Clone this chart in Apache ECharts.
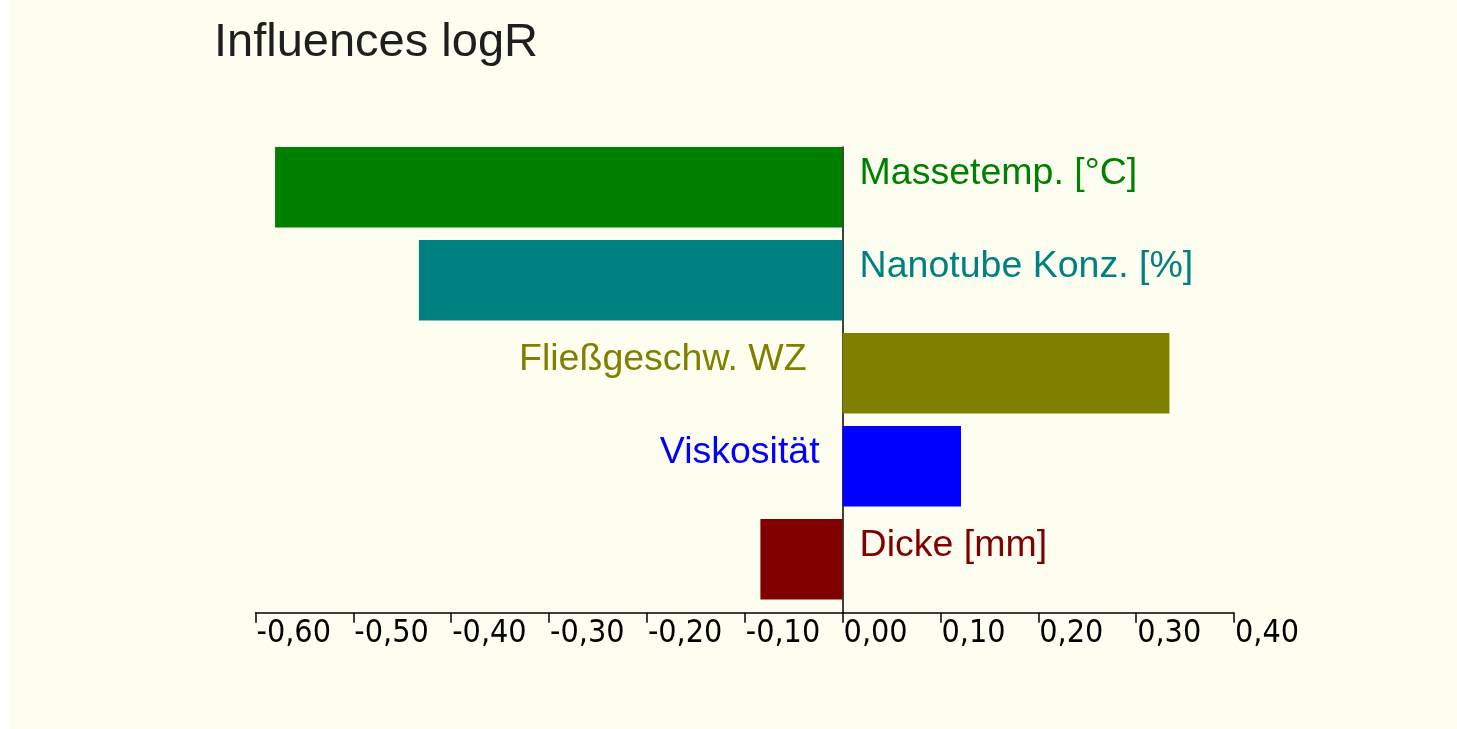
<!DOCTYPE html>
<html>
<head>
<meta charset="utf-8">
<title>Influences logR</title>
<script src="https://cdn.jsdelivr.net/npm/echarts@6/dist/echarts.min.js"></script>
<style>
  html, body { margin: 0; padding: 0; background: #ffffff; }
  #chart { position: absolute; left: 9px; top: 0; width: 1448px; height: 729px; background: #fefef0; }
</style>
</head>
<body>
<div id="chart"></div>
<script>
// Effect of each factor on logR
const categories = ['Massetemp. [°C]', 'Nanotube Konz. [%]', 'Fließgeschw. WZ', 'Viskosität', 'Dicke [mm]'];
const effects = [-0.580, -0.433, 0.334, 0.121, -0.084];
const barColors = ['#008000', '#008080', '#808000', '#0000ff', '#800000'];
const axisMin = -0.6;
const axisMax = 0.4;
const axisStep = 0.1;

// left-side labels sit at different gaps from the zero line
const leftLabelGap = { 'Fließgeschw. WZ': 36, 'Viskosität': 23 };

const chart = echarts.init(document.getElementById('chart'));

const plotLeft = 246.5;
const plotWidth = 978.5;

chart.setOption({
  backgroundColor: '#fefef0',
  animation: false,
  title: {
    text: 'Influences logR',
    left: 200,
    top: 15,
    textStyle: { fontFamily: 'Liberation Sans, Arial, sans-serif', fontSize: 47, fontWeight: 'normal', color: '#1e1e1e' }
  },
  grid: [
    { left: plotLeft, width: plotWidth, top: 140.7, height: 465 },
    { left: plotLeft, width: plotWidth, top: 147, height: 465.7 }
  ],
  xAxis: [
    { gridIndex: 0, type: 'value', min: axisMin, max: axisMax, interval: axisStep, show: false },
    {
      gridIndex: 1, type: 'value', min: axisMin, max: axisMax, interval: axisStep,
      axisLine: { show: true, lineStyle: { color: '#000', width: 1.5 } },
      axisTick: { show: true, length: 10, lineStyle: { color: '#000', width: 1.5 } },
      splitLine: { show: false },
      axisLabel: {
        align: 'left',
        margin: 5,
        padding: [0, 0, 0, 1],
        color: '#000',
        fontFamily: 'Liberation Sans Narrow, DejaVu Sans Condensed, Arial, sans-serif',
        fontSize: 32,
        showMaxLabel: true,
        formatter: v => v.toFixed(2).replace('.', ',')
      }
    }
  ],
  yAxis: [
    { gridIndex: 0, type: 'category', data: categories, inverse: true, show: false },
    {
      gridIndex: 1, type: 'value', min: 0, max: 1,
      axisLine: { show: true, onZero: true, lineStyle: { color: '#000', width: 1.5 } },
      axisTick: { show: false }, axisLabel: { show: false }, splitLine: { show: false }
    }
  ],
  series: [
    {
      type: 'bar',
      xAxisIndex: 0, yAxisIndex: 0,
      barCategoryGap: '13.4%',
      data: effects.map((v, i) => {
        const neg = v < 0;
        return {
          value: v,
          itemStyle: { color: barColors[i] },
          label: {
            show: true,
            position: neg ? 'right' : 'left',
            distance: neg ? 17 : (leftLabelGap[categories[i]] || 20),
            offset: [0, -13.5],
            color: barColors[i],
            fontFamily: 'Liberation Sans, Arial, sans-serif',
            fontSize: 37.5,
            formatter: () => categories[i]
          }
        };
      })
    },
    { type: 'bar', xAxisIndex: 1, yAxisIndex: 1, data: [] }
  ]
});
</script>
</body>
</html>
